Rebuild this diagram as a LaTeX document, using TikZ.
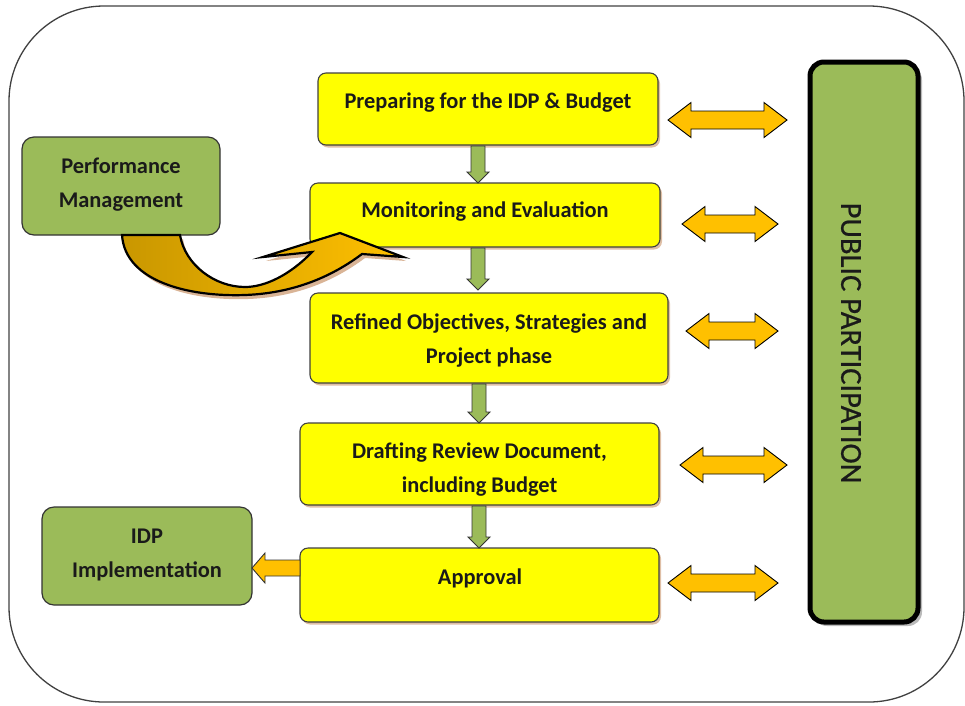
\documentclass[tikz,border=0pt]{standalone}
\usepackage{fontspec}
\setmainfont{Carlito}
\usetikzlibrary{shadows}
\definecolor{yel}{HTML}{FFFF00}
\definecolor{grn}{HTML}{9BBB59}
\definecolor{org}{HTML}{FFC000}
\definecolor{dorg}{HTML}{C99700}
\definecolor{shd}{HTML}{C9946A}
\definecolor{txt}{HTML}{1A1A1A}
\newcommand{\dblarr}[3]{%
  \path[dbl] (#1,#3) -- (#1+23,#3-17.5) -- (#1+23,#3-9) -- (#2-23,#3-9) -- (#2-23,#3-17.5)
    -- (#2,#3) -- (#2-23,#3+17.5) -- (#2-23,#3+9) -- (#1+23,#3+9) -- (#1+23,#3+17.5) -- cycle;}
\newcommand{\garr}[3]{%
  \path[garrow] (#1-7,#2) -- (#1+7,#2) -- (#1+7,#3-11) -- (#1+11,#3-11) -- (#1,#3)
    -- (#1-11,#3-11) -- (#1-7,#3-11) -- cycle;}
\begin{document}
\begin{tikzpicture}[x=1pt,y=-1pt,
  lbl/.style={text=txt, align=center, font=\bfseries\fontsize{22.4}{34}\selectfont},
  ybox/.style={draw=black!75, line width=1.1pt, fill=yel, rounded corners=8pt,
     drop shadow={fill=shd, opacity=0.6, shadow xshift=2pt, shadow yshift=-2.5pt}},
  gbox/.style={draw=black!80, line width=1.2pt, fill=grn, rounded corners=12pt},
  dbl/.style={draw=black, line width=0.9pt, fill=org},
  garrow/.style={draw=black!80, line width=0.9pt, fill=grn},
  larrow/.style={draw=black!80, line width=0.9pt, fill=org}]
\useasboundingbox (0,0) rectangle (965,705);
% outer frame
\draw[black!75, line width=1.3pt, rounded corners=95pt] (9,6) rectangle (964,702);

% process boxes
\node[ybox, minimum width=340pt, minimum height=72pt] (prep) at (488,109) {};
\node[ybox, minimum width=350pt, minimum height=64pt] (mon) at (485,215) {};
\node[ybox, minimum width=358pt, minimum height=90pt] (ref) at (489,338) {};
\node[ybox, minimum width=359pt, minimum height=82pt] (draft) at (479.5,464) {};
\node[ybox, minimum width=359pt, minimum height=74pt] (appr) at (479.5,585) {};

\node[lbl] (tprep) at (488,103) {Preparing for the IDP \& Budget};
\node[lbl] (tmon) at (485,212) {Monitoring and Evaluation};
\node[lbl] (tref) at (489,341) {Refined Objectives, Strategies and\\Project phase};
\node[lbl] (tdraft) at (479.5,470) {Drafting Review Document,\\including Budget};
\node[lbl] (tappr) at (480,578) {Approval};

% side boxes
\node[gbox, minimum width=198pt, minimum height=98pt] (perf) at (121,186) {};
\node[lbl] (tperf) at (121,185) {Performance\\Management};
\node[gbox, minimum width=210pt, minimum height=98pt] (impl) at (147,556) {};
\node[lbl] (timpl) at (147,555) {IDP\\Implementation};

% public participation
\fill[black!45, opacity=0.6, rounded corners=14pt] (813,66) rectangle (922,626);
\node[draw=black, line width=5pt, fill=grn, rounded corners=14pt,
      minimum width=108pt, minimum height=560pt] (pub) at (864,342) {};
\node[lbl, rotate=-90, font=\fontsize{30.5}{34}\selectfont] (tpub) at (851,343) {\addfontfeature{FakeBold=0.6}PUBLIC PARTICIPATION};

% green down arrows
\garr{478}{146}{183}
\garr{478}{248}{290}
\garr{479}{384}{423}
\garr{479}{506}{548}

% orange arrow to implementation
\path[larrow] (300,560) -- (265,560) -- (265,553) -- (252,568) -- (265,583) -- (265,576) -- (300,576) -- cycle;

% double arrows
\dblarr{668}{787}{120}
\dblarr{682}{778}{224}
\dblarr{686}{778}{331}
\dblarr{680}{787}{465}
\dblarr{668}{778}{583}

% curved arrow
\fill[shd, opacity=0.7, shift={(3,4)}]
  (122,235) .. controls (125,282) and (190,297) .. (245,295) .. controls (300,293) and (338,272) .. (362,254)
  -- (403,257) -- (340,233) -- (263,257) -- (312,252) .. controls (290,275) and (265,287) .. (245,287)
  .. controls (215,287) and (185,265) .. (180,235) -- cycle;
\path[draw=black, line width=2.2pt, line join=miter, left color=dorg, right color=org]
  (122,235) .. controls (125,282) and (190,297) .. (245,295) .. controls (300,293) and (338,272) .. (362,254)
  -- (403,257) -- (340,233) -- (263,257) -- (312,252) .. controls (290,275) and (265,287) .. (245,287)
  .. controls (215,287) and (185,265) .. (180,235) -- cycle;
\end{tikzpicture}
\end{document}
